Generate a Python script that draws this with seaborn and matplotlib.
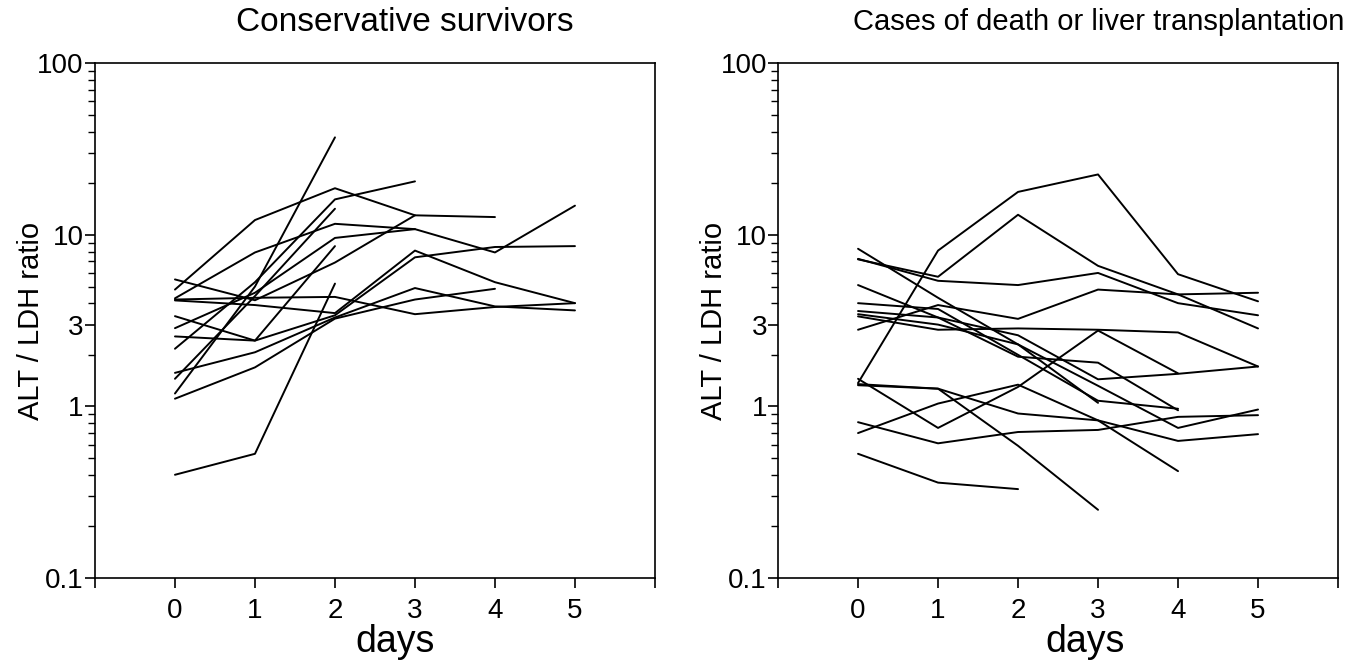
import numpy as np
import pandas as pd
import matplotlib.pyplot as plt
import seaborn as sns
from matplotlib.ticker import LogLocator, NullFormatter

nan = np.nan
days = [0, 1, 2, 3, 4, 5]

# ALT / LDH ratio per patient, days 0-5 (nan = no more measurements)
survivors = [
    [4.8, 12.2, 18.7, 13.0, 12.7, nan],
    [4.27, 7.9, 11.6, 10.8, 7.9, 14.8],
    [4.2, 4.3, 4.35, 3.45, 3.8, 4.0],
    [0.40, 0.53, 5.2, nan, nan, nan],
    [1.19, 5.0, 37.0, nan, nan, nan],
    [2.17, 5.3, 16.1, 20.5, nan, nan],
    [1.45, 4.4, 14.2, nan, nan, nan],
    [2.86, 4.6, 9.6, 10.8, nan, nan],
    [2.56, 2.42, 8.6, nan, nan, nan],
    [5.5, 4.16, 6.9, 13.0, nan, nan],
    [4.15, 3.9, 3.5, 8.1, 5.3, 4.0],
    [3.36, 2.42, 3.4, 7.4, 8.5, 8.6],
    [1.57, 2.07, 3.3, 4.9, 3.83, 3.63],
    [1.11, 1.69, 3.25, 4.2, 4.85, nan],
]

death_or_ltx = [
    [1.37, 8.1, 17.8, 22.5, 5.9, 4.1],
    [7.2, 5.7, 13.1, 6.6, 4.5, 2.85],
    [7.25, 5.4, 5.1, 6.0, 4.0, 3.4],
    [8.3, 4.3, 2.3, 1.05, nan, nan],
    [5.1, 3.3, 1.95, 1.8, 0.95, nan],
    [3.6, 3.3, 2.6, 1.44, 1.55, 1.71],
    [2.8, 3.9, 3.24, 4.8, 4.5, 4.6],
    [3.45, 3.0, 2.3, 1.32, 0.75, 0.96],
    [3.35, 2.8, 2.85, 2.8, 2.7, 1.71],
    [4.0, 3.7, 2.0, 1.08, 0.97, nan],
    [0.53, 0.36, 0.33, nan, nan, nan],
    [0.81, 0.61, 0.71, 0.73, 0.87, 0.89],
    [1.33, 1.27, 0.59, 0.25, nan, nan],
    [0.70, 1.04, 1.34, 0.83, 0.63, 0.69],
    [1.45, 0.75, 1.3, 2.77, 1.56, nan],
    [1.35, 1.27, 0.91, 0.83, 0.42, nan],
]

titles = ['Conservative survivors', 'Cases of death or liver transplantation']
ytick_vals = [0.1, 1, 3, 10, 100]
ytick_labels = ['0.1', '1', '3', '10', '100']
xtick_labels = ['', '0', '1', '2', '3', '4', '5', '']


def to_long(series):
    rows = []
    for pid, vals in enumerate(series):
        for d, v in zip(days, vals):
            if not np.isnan(v):
                rows.append({'patient': pid, 'day': d, 'ratio': v})
    return pd.DataFrame(rows)


sns.set_theme(style='ticks')
plt.rcParams['font.family'] = ['Liberation Sans', 'DejaVu Sans']
for key in ['text.color', 'axes.labelcolor', 'xtick.color', 'ytick.color', 'axes.edgecolor']:
    plt.rcParams[key] = 'black'

fig = plt.figure(figsize=(13.51, 6.66), dpi=100)
ax_left = fig.add_axes([0.0703, 0.132, 0.4145, 0.773])
ax_right = fig.add_axes([0.5759, 0.132, 0.4145, 0.773])

# (axes, data, title x, title size, xlabel x)
panels = [(ax_left, survivors, 0.554, 24, 0.536),
          (ax_right, death_or_ltx, 0.572, 21, 0.548)]
for (ax, series, tx, tsize, lx), title in zip(panels, titles):
    df = to_long(series)
    sns.lineplot(data=df, x='day', y='ratio', units='patient', estimator=None,
                 color='black', linewidth=1.4, legend=False, ax=ax)
    ax.set_yscale('log')
    ax.set_ylim(0.1, 100)
    ax.set_xlim(-1, 6)
    ax.set_yticks(ytick_vals, labels=ytick_labels)
    ax.yaxis.set_minor_locator(LogLocator(base=10, subs=range(2, 10)))
    ax.yaxis.set_minor_formatter(NullFormatter())
    ax.set_xticks(range(-1, 7), labels=xtick_labels)
    ax.tick_params(axis='both', which='major', direction='out', length=7,
                   width=1.2, labelsize=20, color='black')
    ax.tick_params(axis='y', which='major', pad=1)
    ax.tick_params(axis='x', which='major', pad=7)
    ax.tick_params(axis='y', which='minor', direction='out', length=5, width=1.0)
    for sp in ax.spines.values():
        sp.set_linewidth(1.2)
        sp.set_color('black')
    ax.set_xlabel('days', fontsize=27)
    ax.xaxis.set_label_coords(lx, -0.09)
    ax.set_ylabel('ALT / LDH ratio', fontsize=21)
    ax.yaxis.set_label_coords(-0.09, 0.5)
    ax.text(tx, 1.08, title, transform=ax.transAxes, ha='center', va='center',
            fontsize=tsize)

fig.savefig('out.png', dpi=100)
